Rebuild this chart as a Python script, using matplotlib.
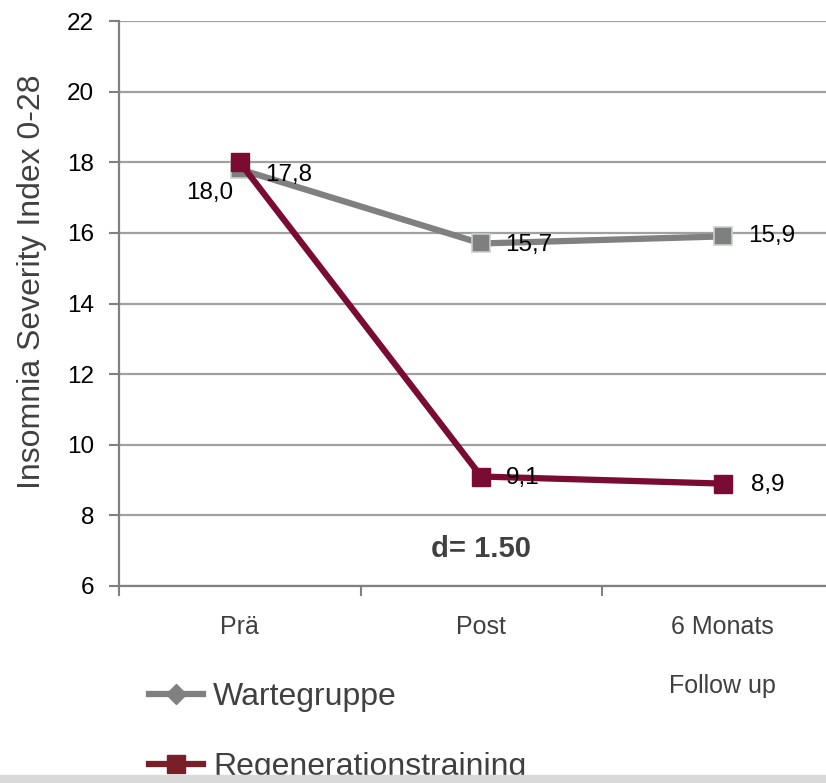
import matplotlib.pyplot as plt
from matplotlib.patches import Rectangle
from matplotlib.lines import Line2D

categories = ['Prä', 'Post', '6 Monats\nFollow up']
wartegruppe = [17.8, 15.7, 15.9]
regeneration = [18.0, 9.1, 8.9]
warte_labels = ['17,8', '15,7', '15,9']
regen_labels = ['18,0', '9,1', '8,9']
y_ticks = [6, 8, 10, 12, 14, 16, 18, 20, 22]

GRAY = '#808080'
RED = '#7a0c33'
TEXT = '#404040'
NARROW = ['Liberation Sans Narrow', 'Liberation Sans', 'DejaVu Sans']
REGULAR = ['Liberation Sans', 'DejaVu Sans']

plt.rcParams['font.family'] = REGULAR

fig = plt.figure(figsize=(8.26, 7.83), dpi=100)
ax = fig.add_axes([119 / 826, 197 / 783, 724.5 / 826, 565 / 783])

x = list(range(len(categories)))
ax.plot(x, wartegruppe, color=GRAY, lw=4.5, marker='s', ms=13,
        mfc='#7f7f7f', mec='#c8d0c8', mew=1.2, zorder=3)
ax.plot(x, regeneration, color=RED, lw=4.5, marker='s', ms=13,
        mfc=RED, mec=RED, zorder=4)

# Datenbeschriftungen
warte_offsets = [(18, -4), (17, -1), (18, 0)]
regen_offsets = [(-5, -22), (18, -1), (20, -1)]
for i, (lab, off) in enumerate(zip(warte_labels, warte_offsets)):
    ax.annotate(lab, (i, wartegruppe[i]), xytext=off, textcoords='offset points',
                ha='left' if off[0] > 0 else 'right', va='center',
                fontsize=17.5, family=NARROW, color='black', zorder=5)
for i, (lab, off) in enumerate(zip(regen_labels, regen_offsets)):
    ax.annotate(lab, (i, regeneration[i]), xytext=off, textcoords='offset points',
                ha='left' if off[0] > 0 else 'right', va='center',
                fontsize=17.5, family=NARROW, color='black', zorder=5)

ax.text(1, 7.05, 'd= 1.50', ha='center', va='center', fontsize=21,
        fontweight='bold', family=NARROW, color=TEXT)

ax.set_xlim(-0.5, 2.5)
ax.set_ylim(6, 22)
ax.set_yticks(y_ticks)
ax.set_yticklabels([str(t) for t in y_ticks], family=NARROW, fontsize=17.5)
ax.set_xticks(x)
ax.set_xticklabels(categories, fontsize=18, color=TEXT, linespacing=2.85, va='top')
ax.set_xticks([-0.5, 0.5, 1.5, 2.5], minor=True)
ax.tick_params(axis='x', which='major', length=0, pad=21)
ax.tick_params(axis='x', which='minor', length=7, width=1.5, color=GRAY, direction='out')
ax.tick_params(axis='y', length=7, width=1.5, color=GRAY, pad=11)

ax.grid(axis='y', color='#a0a0a0', lw=1.6, zorder=0)
for side in ['top', 'right']:
    ax.spines[side].set_visible(False)
for side in ['left', 'bottom']:
    ax.spines[side].set_color(GRAY)
    ax.spines[side].set_linewidth(1.6)

ax.set_ylabel('Insomnia Severity Index 0-28', fontsize=23, color=TEXT)
ax.yaxis.set_label_coords(-0.1, 0.538)

handles = [
    Line2D([], [], color=GRAY, lw=4.5, marker='D', ms=10, mfc=GRAY, mec=GRAY),
    Line2D([], [], color='#7a1f28', lw=4.5, marker='s', ms=13, mfc='#7a1f28', mec='#7a1f28'),
]
fig.legend(handles, ['Wartegruppe', 'Regenerationstraining'], loc='upper left',
           bbox_to_anchor=(149 / 826, 1 - 682 / 783), frameon=False, fontsize=23,
           labelcolor=TEXT, handlelength=1.7, handletextpad=0.3, labelspacing=1.25,
           borderaxespad=0, borderpad=0)

fig.patches.append(Rectangle((0, 0), 1, 8 / 783, transform=fig.transFigure,
                             color='#d9d9d9', zorder=10))

fig.savefig('out.png', dpi=100)
